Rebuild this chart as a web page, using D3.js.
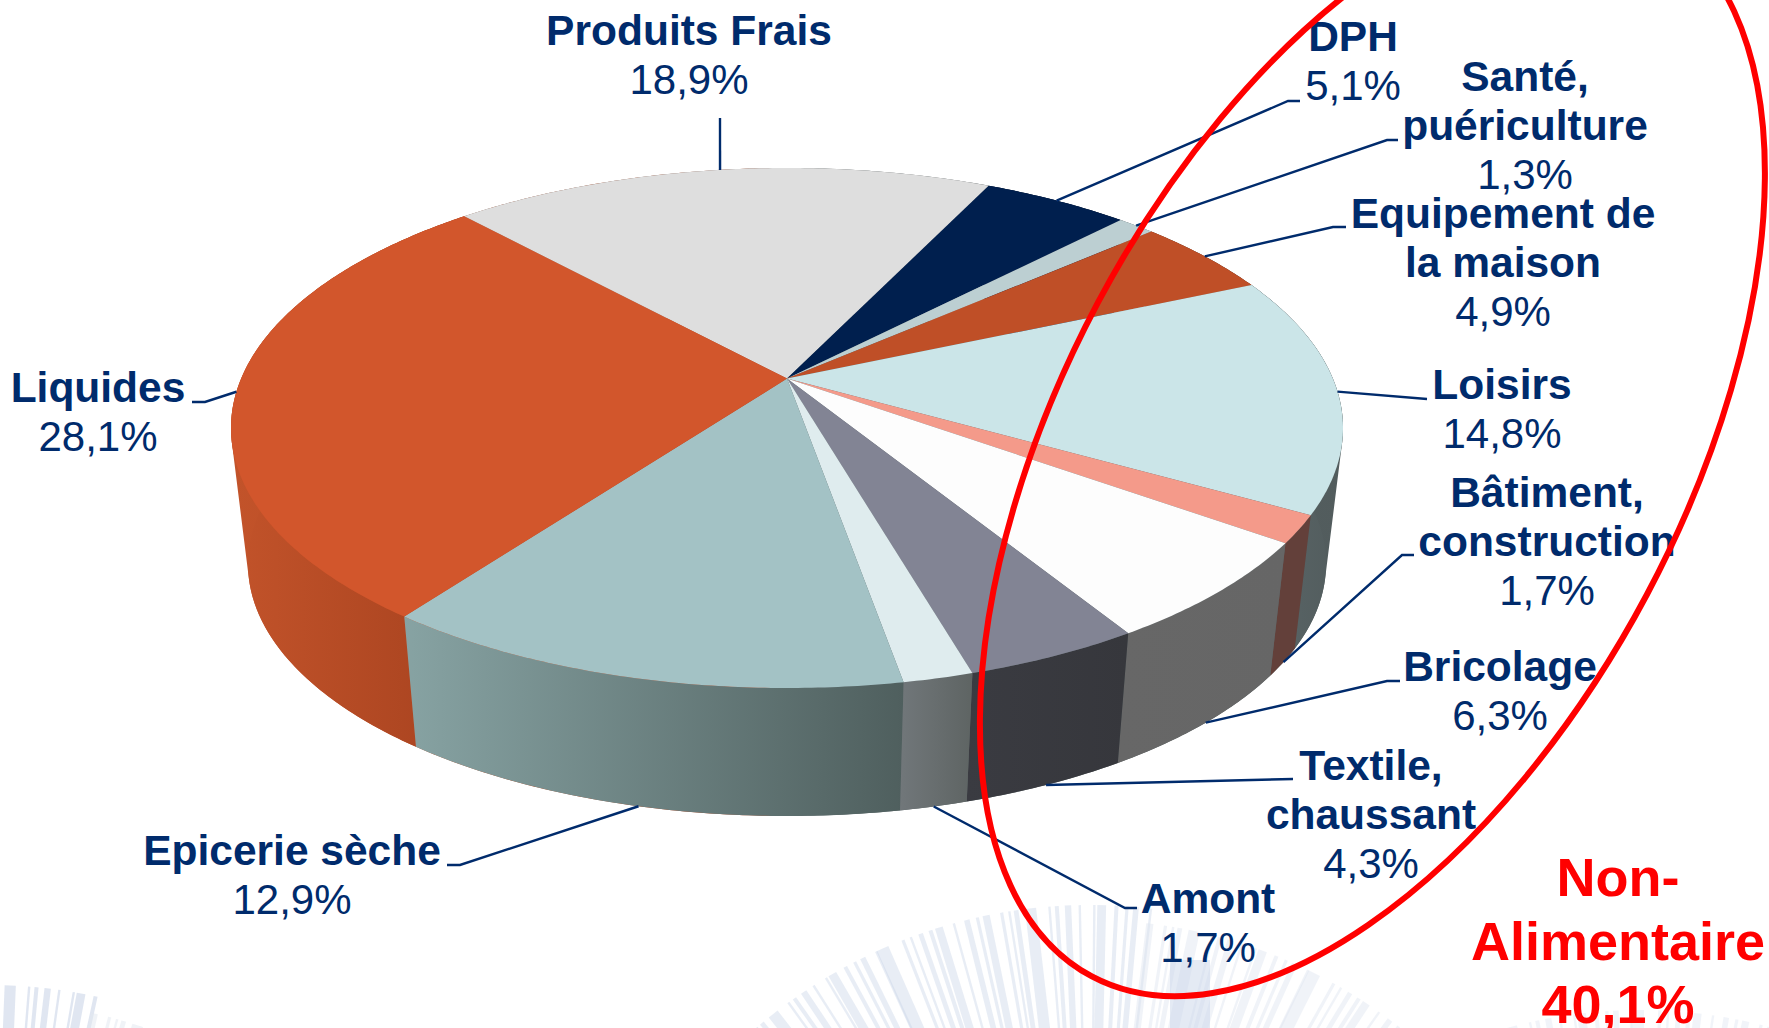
<!DOCTYPE html>
<html lang="fr"><head><meta charset="utf-8">
<script src="https://cdn.jsdelivr.net/npm/d3@7"></script>
<style>html,body{margin:0;padding:0;background:#fff;overflow:hidden}svg{display:block}text{font-family:"Liberation Sans",Arial,sans-serif}</style>
</head><body><svg id="c" width="1769" height="1028"></svg>
<script>
// --- data ---
const categories = ["Produits Frais","DPH","Santé, puériculture","Equipement de la maison","Loisirs","Bâtiment, construction","Bricolage","Textile, chaussant","Amont","Epicerie sèche","Liquides"];
const shares = [18.9,5.1,1.3,4.9,14.8,1.7,6.3,4.3,1.7,12.9,28.1];
const shareLabels = ["18,9%","5,1%","1,3%","4,9%","14,8%","1,7%","6,3%","4,3%","1,7%","12,9%","28,1%"];
const nameLines = [["Produits Frais"],["DPH"],["Santé,","puériculture"],["Equipement de","la maison"],["Loisirs"],["Bâtiment,","construction"],["Bricolage"],["Textile,","chaussant"],["Amont"],["Epicerie sèche"],["Liquides"]];
const calloutLines = ["Non-","Alimentaire","40,1%"];

// --- styles ---
const topColors = ["#dedede","#001f4e","#bccfd2","#bf4f27","#cbe5e8","#f49a8a","#fdfdfd","#828494","#dfecee","#a3c2c5","#d2562c"];
const wallColors = [["#999","#999"],["#001436","#001436"],["#7c8a8c","#7c8a8c"],["#8a3a1c","#8a3a1c"],["#5c686a","#525c5d"],["#63403a","#63403a"],["#676767","#666666"],["#3a3b41","#36373c"],["#71777a","#5e6463"],["#87a3a3","#4f5f5e"],["#c2532a","#a7421f"]];
const labelX = [689,1353,1525,1503,1502,1547,1500,1371,1208,292,98];
const labelY = [45,51,91,228,399,507,681,780,913,865,402];
const leaders = [[[720,118]],[[1288,101],[1300,101]],[[1387,140],[1398,140]],[[1333,227],[1346,227]],[[1427,399]],[[1402,555],[1414,555]],[[1387,681],[1400,681]],[[1293,779]],[[1125,908],[1137,908]],[[460,865],[447,865]],[[205,402],[192,402]]];
const navy = "#002b6c";
const LH = 49;

const svg = d3.select("#c");
const defs = svg.append("defs");

// --- faint background watermark ---
const wm = svg.append("g").attr("fill","none");
const barPattern = [9,4,3,6,14,3,5,8,3,3,11,5,4,7,3,16,4,3,6,5,10,3,7,4];
function barcodeArc(cx,cy,r0,r1,a0,a1,color,op){
  let a=a0,i=0;
  while(a<a1){
    const w=barPattern[i%barPattern.length], g=barPattern[(i+7)%barPattern.length]*0.6+2;
    wm.append("line").attr("x1",cx+r0*Math.sin(a)).attr("y1",cy-r0*Math.cos(a))
      .attr("x2",cx+r1*Math.sin(a)).attr("y2",cy-r1*Math.cos(a))
      .attr("stroke",color).attr("stroke-width",w*0.8).attr("opacity",op);
    a+=(w+g)/r0;i++;
  }
}
barcodeArc(1090,1420,515,385,-0.75,0.12,"#c6d2e6",0.4);
barcodeArc(1090,1420,500,385,0.12,1.05,"#dde4f0",0.45);
barcodeArc(-10,1480,495,400,-0.05,0.22,"#ccd6e8",0.6);
barcodeArc(-10,1480,478,400,0.22,0.85,"#e2e7f0",0.5);
barcodeArc(1640,1510,500,420,-0.35,0.32,"#dde4f0",0.4);
wm.append("rect").attr("x",1170).attr("y",960).attr("width",40).attr("height",68).attr("fill","#c9d5ea").attr("opacity",.5);

// --- pie geometry ---
const cx=787, topY=428, rxTop=556, ryTop=260, botY=564, rxBot=539, ryBot=252, tilt=0.19, start=-42.4*Math.PI/180;
const sTop={x:d3.scaleLinear().domain([-1,1]).range([cx-rxTop,cx+rxTop]),y:d3.scaleLinear().domain([-1,1]).range([topY-ryTop,topY+ryTop])};
const sBot={x:d3.scaleLinear().domain([-1,1]).range([cx-rxBot,cx+rxBot]),y:d3.scaleLinear().domain([-1,1]).range([botY-ryBot,botY+ryBot])};
const k=Math.sqrt(1-tilt*tilt);
function rim(a,s){
  const u=Math.sin(a),v=-Math.cos(a),d=1-tilt*v;
  return [s.x(u*k/d),s.y((v-tilt)/d)];
}
const apex=[sTop.x(0),sTop.y(-tilt)];
const arcs=d3.pie().sort(null).value(d=>d).startAngle(start).endAngle(start+2*Math.PI)(shares);
const samples=d=>{const n=Math.max(2,Math.ceil((d.endAngle-d.startAngle)/0.01));return d3.range(n+1).map(i=>d.startAngle+(d.endAngle-d.startAngle)*i/n);};
const line=d3.line();
function norm(d){let m=(d.startAngle+d.endAngle)/2;return ((m%(2*Math.PI))+2*Math.PI)%(2*Math.PI);}

// silhouette behind the walls (closes the tangent between the two rims)
const hullPts=d3.range(0,6.29,0.01).flatMap(a=>[rim(a,sTop),rim(a,sBot)]);
const hg=defs.append("linearGradient").attr("id","hull").attr("x1",0).attr("x2",1).attr("y1",0).attr("y2",0);
[[0,"#c2532a"],[0.5,"#a7421f"],[0.5,"#5c686a"],[1,"#525c5d"]].forEach(s=>hg.append("stop").attr("offset",s[0]).attr("stop-color",s[1]));
svg.append("path").attr("d",line(d3.polygonHull(hullPts))+"Z").attr("fill","url(#hull)");

// walls
const order=d3.range(arcs.length).sort((a,b)=>Math.abs(Math.PI-norm(arcs[b]))-Math.abs(Math.PI-norm(arcs[a])));
order.forEach(i=>{
  const id="w"+i;
  const g=defs.append("linearGradient").attr("id",id).attr("x1",0).attr("x2",1).attr("y1",0).attr("y2",0);
  g.append("stop").attr("offset",0).attr("stop-color",wallColors[i][0]);
  g.append("stop").attr("offset",1).attr("stop-color",wallColors[i][1]);
  const as=samples(arcs[i]);
  const pts=as.map(a=>rim(a,sTop)).concat(as.slice().reverse().map(a=>rim(a,sBot)));
  svg.append("path").attr("d",line(pts)+"Z").attr("fill",`url(#${id})`);
});
arcs.forEach((d,i)=>{
  const pts=[apex].concat(samples(d).map(a=>rim(a,sTop)));
  svg.append("path").attr("d",line(pts)+"Z").attr("fill",topColors[i]);
});

// leader lines
arcs.forEach((d,i)=>{
  const m=norm(d),onTop=m<100*Math.PI/180||m>260*Math.PI/180;
  const from=rim(m,onTop?sTop:sBot);
  svg.append("path").attr("d",line([from,...leaders[i]])).attr("fill","none").attr("stroke",navy).attr("stroke-width",2.4);
});

// labels
categories.forEach((c,i)=>{
  const t=svg.append("text").attr("text-anchor","middle").attr("fill",navy);
  nameLines[i].forEach((l,j)=>t.append("tspan").attr("x",labelX[i]).attr("y",labelY[i]+j*LH).attr("font-weight","bold").attr("font-size",42.5).text(l));
  t.append("tspan").attr("x",labelX[i]).attr("y",labelY[i]+nameLines[i].length*LH).attr("font-size",42).text(shareLabels[i]);
});

// red group outline
svg.append("ellipse").attr("rx",310.9).attr("ry",597.7)
  .attr("transform","translate(1372.4,448.6) rotate(27.99)").attr("fill","none").attr("stroke","#ff0000").attr("stroke-width",6);

// callout
const callY=[896,960,1023];
calloutLines.forEach((l,i)=>svg.append("text").attr("x",1618).attr("y",callY[i]).attr("text-anchor","middle").attr("font-weight","bold").attr("font-size",54).attr("fill","#ff0000").text(l));
</script></body></html>
